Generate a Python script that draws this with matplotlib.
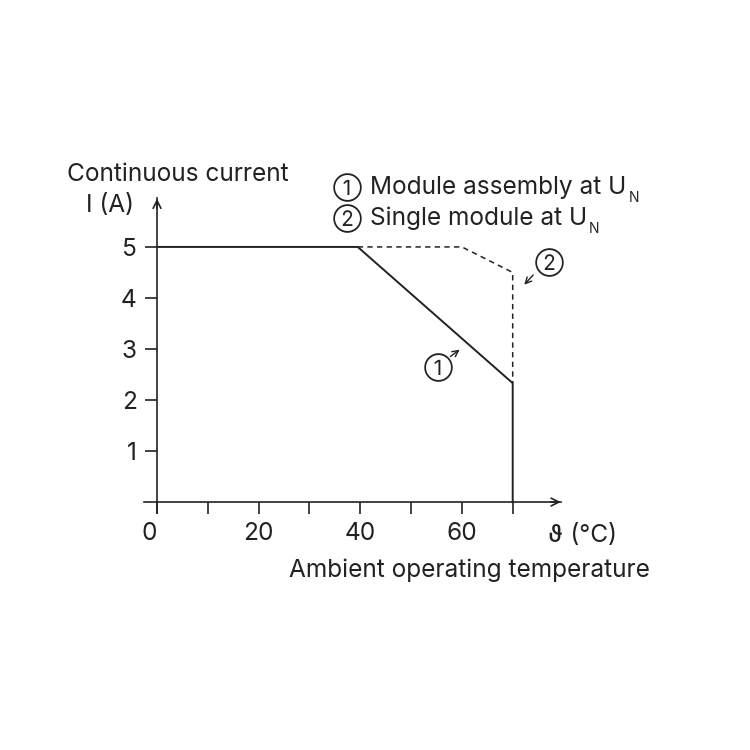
import numpy as np
import matplotlib as m
m.use('Agg')
import matplotlib.pyplot as plt

# derating curves (temperature in degC, current in A)
assembly_t = [0, 39.5, 70, 70]
assembly_i = [5, 5, 2.33, 0]
single_t = [39.5, 60, 70, 70]
single_i = [5, 5, 4.5, 2.33]

xmajor = [0, 20, 40, 60]
xminor = [10, 30, 50, 70]
yticks = [1, 2, 3, 4, 5]

plt.rcParams['font.family'] = ['Inter', 'DejaVu Sans', 'Noto Sans CJK JP']
plt.rcParams['font.size'] = 17.6

fig = plt.figure(figsize=(7.5, 7.5), dpi=100)
ax = fig.add_axes([0, 0, 1, 1])
ax.set_xlim(-30.9, 116.7)
ax.set_ylim(-4.86, 9.84)

for s in ['top', 'right']:
  ax.spines[s].set_visible(False)
ax.spines['left'].set_position(('data', 0))
ax.spines['bottom'].set_position(('data', 0))
ax.spines['left'].set_bounds(-0.22, 5.95)
ax.spines['bottom'].set_bounds(-2.5, 79.5)
for s in ['left', 'bottom']:
  ax.spines[s].set_linewidth(1.2)
  ax.spines[s].set_color('#222222')

ax.annotate('', xy=(80, 0), xytext=(77, 0),
            arrowprops=dict(arrowstyle='->', lw=1.2, color='#222222', mutation_scale=14))
ax.annotate('', xy=(0, 6.0), xytext=(0, 5.7),
            arrowprops=dict(arrowstyle='->', lw=1.2, color='#222222', mutation_scale=14))

ax.set_xticks(xmajor)
ax.set_xticklabels([str(v) for v in xmajor])
ax.set_xticks(xminor, minor=True)
ax.set_yticks(yticks)
ax.set_yticklabels([str(v) for v in yticks])
ax.tick_params(axis='both', which='both', direction='out', length=8.5, width=1.2,
               color='#222222', labelcolor='#222222')
ax.tick_params(axis='x', which='major', pad=6)
ax.tick_params(axis='y', pad=6)
ax.xaxis.get_major_ticks()[0].label1.set_horizontalalignment('right')

ax.plot(assembly_t, assembly_i, color='#222222', lw=1.4)
ax.plot(single_t, single_i, color='#222222', lw=1.1, dashes=(3.5, 2.8))

# axis texts
ax.text(-17.7, 6.29, 'Continuous current', ha='left', va='baseline', color='#222222')
ax.text(-4.5, 5.69, 'I (A)', ha='right', va='baseline', color='#222222')
ax.text(77.0, -0.78, 'ϑ (°C)', ha='left', va='baseline', color='#222222')
ax.text(97.0, -1.47, 'Ambient operating temperature', ha='right', va='baseline', color='#222222')

# legend
legend_num = ['①', '②']
legend = ['Module assembly at U', 'Single module at U']
legend_y = [6.04, 5.43]
for num, lab, yy in zip(legend_num, legend, legend_y):
  ax.text(37.4, yy + 0.12, num, ha='center', va='center', fontsize=15, color='#222222')
  t = ax.text(41.9, yy, lab, ha='left', va='baseline', color='#222222')
  ax.annotate('N', xy=(1, 0), xycoords=t, xytext=(1.5, -2.5), textcoords='offset points',
              fontsize=10, ha='left', va='baseline', color='#222222')

# curve markers
ax.text(55.3, 2.63, '①', ha='center', va='center', fontsize=15, color='#222222')
ax.annotate('', xy=(60.0, 3.02), xytext=(57.3, 2.82),
            arrowprops=dict(arrowstyle='->', lw=1.0, color='#222222', mutation_scale=11))
ax.text(77.2, 4.69, '②', ha='center', va='center', fontsize=15, color='#222222')
ax.annotate('', xy=(71.9, 4.22), xytext=(74.4, 4.49),
            arrowprops=dict(arrowstyle='->', lw=1.0, color='#222222', mutation_scale=11))

plt.savefig('out.png', dpi=100)
